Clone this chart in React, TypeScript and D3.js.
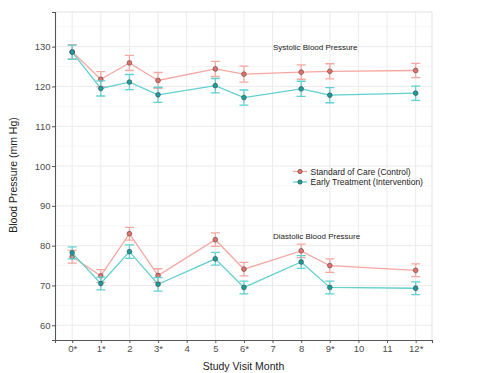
import React, { useEffect, useRef } from "react";
import * as d3 from "d3";

// study visit months, star marks the primary visits
const months = [0, 1, 2, 3, 5, 6, 8, 9, 12];
const tickLabels = ["0*", "1*", "2", "3*", "4", "5", "6*", "7", "8", "9*", "10", "11", "12*"];
const groups = ["Standard of Care (Control)", "Early Treatment (Intervention)"];

// systolic means and error half widths
const sysControl = [128.7, 121.8, 125.9, 121.5, 124.4, 123.1, 123.6, 123.8, 124.0];
const sysControlErr = [1.8, 1.9, 1.9, 2.0, 1.9, 2.0, 1.8, 1.9, 1.8];
const sysTreat = [128.6, 119.5, 121.1, 117.9, 120.2, 117.2, 119.4, 117.8, 118.3];
const sysTreatErr = [1.8, 1.9, 1.9, 1.9, 1.8, 1.9, 1.9, 1.9, 1.8];

// diastolic means and error half widths
const diaControl = [77.2, 72.4, 83.0, 72.5, 81.5, 74.1, 78.7, 75.0, 73.8];
const diaControlErr = [1.6, 1.6, 1.6, 1.7, 1.7, 1.7, 1.7, 1.7, 1.6];
const diaTreat = [78.2, 70.5, 78.5, 70.3, 76.7, 69.5, 75.9, 69.5, 69.3];
const diaTreatErr = [1.5, 1.6, 1.7, 1.7, 1.6, 1.6, 1.6, 1.6, 1.6];

const W = 480, H = 373;
const margin = { top: 12, right: 48, bottom: 33, left: 55 };

const lineCol = ["#f5a8a2", "#62cfd0"];
const ptCol = ["#e5706a", "#1b9c9e"];
const font = "Liberation Sans, Arial, sans-serif";

export default function App() {
  const ref = useRef<SVGSVGElement>(null);

  useEffect(() => {
    const svg = d3.select(ref.current);
    svg.selectAll("*").remove();

    const x = d3.scaleLinear().domain([-0.6, 12.57]).range([margin.left, W - margin.right]);
    const y = d3.scaleLinear().domain([56.3, 138.7]).range([H - margin.bottom, margin.top]);
    const [x0, x1] = x.range();
    const [y0, y1] = y.range();

    // grid
    const grid = svg.append("g");
    grid.selectAll(".minor").data(d3.range(65, 136, 10)).join("line")
      .attr("x1", x0).attr("x2", x1)
      .attr("y1", d => y(d)).attr("y2", d => y(d))
      .attr("stroke", "#f2f2f2").attr("stroke-width", 0.7);
    grid.selectAll(".majy").data(d3.range(60, 131, 10)).join("line")
      .attr("x1", x0).attr("x2", x1)
      .attr("y1", d => y(d)).attr("y2", d => y(d))
      .attr("stroke", "#ebebeb").attr("stroke-width", 1);
    grid.selectAll(".majx").data(d3.range(0, 13)).join("line")
      .attr("x1", d => x(d)).attr("x2", d => x(d))
      .attr("y1", y0).attr("y2", y1)
      .attr("stroke", "#ebebeb").attr("stroke-width", 1);

    // panel border top/right
    svg.append("path")
      .attr("d", `M${x0},${y1}H${x1}V${y0}`)
      .attr("fill", "none").attr("stroke", "#e3e3e3").attr("stroke-width", 1);

    // axes
    const yAxis = svg.append("g").attr("transform", `translate(${x0},0)`)
      .call(d3.axisLeft(y).tickValues(d3.range(60, 131, 10)).tickSize(3).tickPadding(1.5));
    const xAxis = svg.append("g").attr("transform", `translate(0,${y0})`)
      .call(d3.axisBottom(x).tickValues(d3.range(0, 13)).tickFormat((d, i) => tickLabels[i]).tickSize(3).tickPadding(2.5));
    [yAxis, xAxis].forEach(a => {
      a.select(".domain").attr("stroke", "#555").attr("stroke-width", 1.1);
      a.selectAll(".tick line").attr("stroke", "#555");
      a.selectAll("text").attr("fill", "#4d4d4d").attr("font-size", 9.5).attr("font-family", font);
    });

    const series = [
      { v: sysControl, e: sysControlErr, g: 0 },
      { v: diaControl, e: diaControlErr, g: 0 },
      { v: sysTreat, e: sysTreatErr, g: 1 },
      { v: diaTreat, e: diaTreatErr, g: 1 },
    ];

    const line = d3.line<number>().x((d, i) => x(months[i])).y(d => y(d));

    series.forEach(s => {
      const g = svg.append("g");
      g.append("path").datum(s.v).attr("d", line)
        .attr("fill", "none").attr("stroke", lineCol[s.g]).attr("stroke-width", 1.3);
      const eb = g.selectAll(".eb").data(s.v).join("g");
      eb.append("path")
        .attr("d", (d, i) => {
          const cx = x(months[i]);
          const lo = y(d - s.e[i]), hi = y(d + s.e[i]);
          return `M${cx - 4.5},${hi}H${cx + 4.5}M${cx},${hi}V${lo}M${cx - 4.5},${lo}H${cx + 4.5}`;
        })
        .attr("fill", "none").attr("stroke", lineCol[s.g]).attr("stroke-width", 1.3);
      g.selectAll("circle").data(s.v).join("circle")
        .attr("cx", (d, i) => x(months[i])).attr("cy", d => y(d))
        .attr("r", 2.4).attr("fill", ptCol[s.g]).attr("stroke", "#333").attr("stroke-width", 0.5);
    });

    // panel labels
    svg.append("text").attr("x", 273).attr("y", 50).text("Systolic Blood Pressure")
      .attr("font-size", 8).attr("font-family", font).attr("fill", "#222");
    svg.append("text").attr("x", 273).attr("y", 239).text("Diastolic Blood Pressure")
      .attr("font-size", 8).attr("font-family", font).attr("fill", "#222");

    // legend
    const leg = svg.append("g");
    groups.forEach((name, i) => {
      const ly = 171.5 + i * 10.5;
      leg.append("line").attr("x1", 293).attr("x2", 307).attr("y1", ly).attr("y2", ly)
        .attr("stroke", lineCol[i]).attr("stroke-width", 1.3);
      leg.append("circle").attr("cx", 300).attr("cy", ly).attr("r", 2.2)
        .attr("fill", ptCol[i]).attr("stroke", "#333").attr("stroke-width", 0.5);
      leg.append("text").attr("x", 310.5).attr("y", ly + 3).text(name)
        .attr("font-size", 8.5).attr("font-family", font).attr("fill", "#222");
    });

    // axis titles
    svg.append("text").attr("x", (x0 + x1) / 2).attr("y", 370).attr("text-anchor", "middle")
      .text("Study Visit Month").attr("font-size", 10.5).attr("font-family", font).attr("fill", "#222");
    svg.append("text").attr("transform", `translate(17,175) rotate(-90)`).attr("text-anchor", "middle")
      .text("Blood Pressure (mm Hg)").attr("font-size", 10.5).attr("font-family", font).attr("fill", "#222");
  }, []);

  return (
    <svg ref={ref} width={W} height={H}
      style={{ position: "absolute", left: 0, top: 0, background: "#fff" }} />
  );
}
